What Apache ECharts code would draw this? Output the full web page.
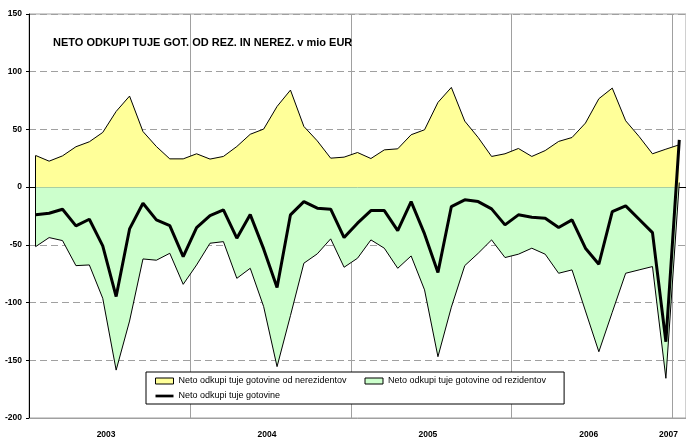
<!DOCTYPE html>
<html>
<head>
<meta charset="utf-8">
<script src="https://cdn.jsdelivr.net/npm/echarts@6/dist/echarts.min.js"></script>
<style>
  html, body { margin: 0; padding: 0; background: #fff; }
  #chart { width: 686px; height: 440px; }
</style>
</head>
<body>
<div id="chart"></div>
<script>
// Monthly categories Jan 2003 .. Jan 2007
const months = [];
for (let y = 2003; y <= 2006; y++) {
    for (let m = 1; m <= 12; m++) months.push(y + '-' + (m < 10 ? '0' + m : m));
}
months.push('2007-01');

// Year labels under the plot (position in months from the left edge)
const yearLabels = ['2003', '2004', '2005', '2006', '2007'];
const yearLabelPos = [5.75, 17.75, 29.75, 41.75, 47.7];

const nameNonres = 'Neto odkupi tuje gotovine od nerezidentov';
const nameRes = 'Neto odkupi tuje gotovine od rezidentov';
const nameTotal = 'Neto odkupi tuje gotovine';

// mio EUR
const nonres = [
    27.4, 22.5, 27.1, 35.0, 39.3, 47.4, 65.6, 78.9, 48.2, 35.2, 24.5, 24.5,
    28.9, 24.3, 26.6, 35.2, 45.8, 50.3, 69.9, 84.1, 52.6, 40.1, 25.1, 26.0,
    30.0, 24.8, 32.3, 33.2, 45.4, 49.7, 73.4, 86.4, 57.2, 43.0, 26.6, 28.9,
    33.5, 26.6, 31.7, 39.6, 43.0, 55.5, 76.6, 85.8, 57.5, 43.9, 28.9, 32.9,
    36.7
];
const res = [
    -51.5, -43.7, -46.3, -68.0, -67.4, -96.3, -158.5, -116.0, -62.2, -63.3, -57.3, -84.2,
    -67.4, -48.6, -47.2, -79.0, -70.3, -103.5, -155.5, -111.3, -65.9, -57.8, -44.8, -69.4,
    -61.6, -45.7, -52.9, -70.3, -59.6, -89.0, -146.9, -104.0, -68.0, -57.3, -45.7, -61.0,
    -58.1, -52.9, -58.1, -74.6, -71.7, -107.3, -142.6, -108.4, -74.6, -71.7, -68.8, -165.6,
    4.0
];
const total = [
    -24.0, -22.6, -19.1, -33.6, -27.8, -50.9, -94.8, -36.2, -13.9, -28.4, -33.3, -60.2,
    -35.0, -24.6, -19.7, -44.2, -23.8, -53.5, -87.0, -24.0, -12.5, -18.2, -19.1, -43.7,
    -31.2, -20.3, -20.3, -37.6, -12.5, -40.5, -74.0, -16.8, -11.0, -12.5, -18.8, -32.7,
    -24.0, -26.0, -26.9, -35.0, -28.4, -52.9, -66.8, -21.2, -16.2, -27.8, -39.4, -133.9,
    41.0
];

const font = 'Liberation Sans, Arial, sans-serif';
const gridGray = '#a0a0a0';

const chart = echarts.init(document.getElementById('chart'), null, { renderer: 'canvas' });

const option = {
    animation: false,
    backgroundColor: '#fff',
    title: {
        text: 'NETO ODKUPI TUJE GOT. OD REZ. IN NEREZ. v mio EUR',
        left: 53,
        top: 37,
        padding: 0,
        textStyle: { fontFamily: font, fontSize: 11, fontWeight: 'bold', color: '#000' }
    },
    legend: {
        left: 146,
        top: 372,
        width: 415,
        orient: 'horizontal',
        itemWidth: 18,
        itemHeight: 6,
        itemGap: 3,
        padding: [3, 18, 2, 9],
        borderColor: '#000',
        borderWidth: 1,
        borderRadius: 0,
        backgroundColor: '#fff',
        textStyle: { fontFamily: font, fontSize: 9, lineHeight: 12, color: '#000' },
        data: [
            { name: nameNonres, icon: 'rect', itemStyle: { color: '#FFFF99', borderColor: '#000', borderWidth: 1 }, textStyle: { width: 183 } },
            { name: nameRes, icon: 'rect', itemStyle: { color: '#CCFFCC', borderColor: '#000', borderWidth: 1 } },
            { name: nameTotal, icon: 'path://M0,0h20v3h-20z', symbolKeepAspect: true, itemStyle: { color: '#000', borderWidth: 0 } }
        ]
    },
    grid: {
        left: 29,
        right: -1,
        top: 14,
        bottom: 22,
        show: true,
        borderColor: gridGray,
        borderWidth: 1,
        backgroundColor: 'transparent'
    },
    xAxis: [
        {
            type: 'category',
            data: months,
            boundaryGap: true,
            position: 'bottom',
            axisLine: { onZero: true, lineStyle: { color: '#000', width: 1 } },
            axisTick: { show: true, length: 3, interval: (i) => i % 12 === 0, lineStyle: { color: '#000' } },
            axisLabel: { show: false },
            splitLine: { show: true, interval: (i) => i % 12 === 0 && i > 0, lineStyle: { color: gridGray, width: 1 } }
        },
        {
            type: 'value',
            min: 0,
            max: months.length,
            position: 'bottom',
            axisLine: { show: true, onZero: false, lineStyle: { color: gridGray } },
            axisTick: { show: false },
            splitLine: { show: false },
            axisLabel: {
                margin: 12,
                customValues: yearLabelPos,
                formatter: (v) => yearLabels[yearLabelPos.indexOf(v)] || '',
                fontFamily: font,
                fontSize: 8.5,
                fontWeight: 'bold',
                color: '#000'
            }
        }
    ],
    yAxis: {
        type: 'value',
        min: -200,
        max: 150,
        interval: 50,
        axisLine: { show: true, lineStyle: { color: '#000', width: 1 } },
        axisTick: { show: true, length: 3, lineStyle: { color: '#000' } },
        axisLabel: { margin: 7, fontFamily: font, fontSize: 8.5, fontWeight: 'bold', color: '#000' },
        splitLine: { show: true, lineStyle: { color: gridGray, width: 1, type: [7, 4] } }
    },
    series: [
        {
            name: nameNonres,
            type: 'line',
            data: nonres,
            symbol: 'none',
            lineStyle: { color: '#000', width: 1 },
            itemStyle: { color: '#FFFF99' },
            areaStyle: { color: '#FFFF99', opacity: 1 },
            z: 2
        },
        {
            name: nameRes,
            type: 'line',
            data: res,
            symbol: 'none',
            lineStyle: { color: '#000', width: 1 },
            itemStyle: { color: '#CCFFCC' },
            areaStyle: { color: '#CCFFCC', opacity: 1 },
            markLine: {
                silent: true,
                symbol: ['none', 'none'],
                label: { show: false },
                lineStyle: { color: '#000', width: 1, type: 'solid' },
                data: [[{ coord: [months[0], res[0]] }, { coord: [months[0], nonres[0]] }]]
            },
            z: 3
        },
        {
            name: nameTotal,
            type: 'line',
            data: total,
            symbol: 'none',
            lineStyle: { color: '#000', width: 3 },
            itemStyle: { color: '#000' },
            z: 4
        }
    ]
};

chart.setOption(option);
</script>
</body>
</html>
